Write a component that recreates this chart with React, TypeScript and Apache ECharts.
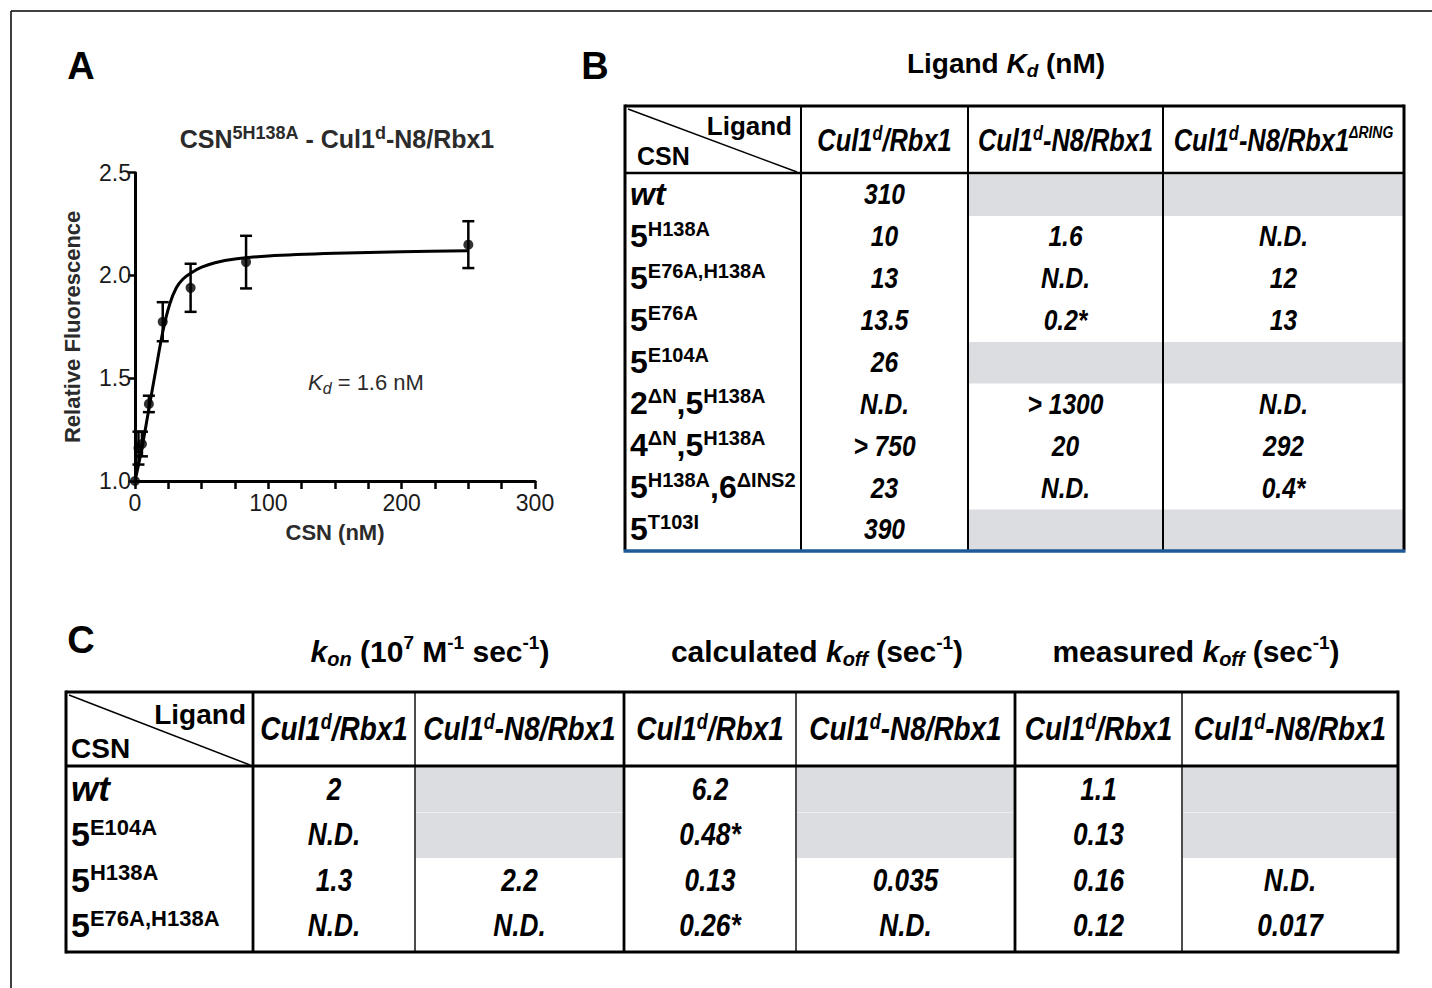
import React, { useEffect, useRef } from "react";
import * as echarts from "echarts";

const FONT = "'Liberation Sans', Arial, Helvetica, sans-serif";

// ---------- Panel A data ----------
const pointX = [0, 2.6, 5.2, 10.4, 20.8, 41.7, 83.3, 250];
const pointY = [1.0, 1.16, 1.18, 1.375, 1.775, 1.94, 2.065, 2.15];
const pointErr = [0, 0.08, 0.06, 0.04, 0.095, 0.117, 0.128, 0.114];
const curveX = [0, 5.2, 10.4, 15.6, 20.8, 26, 31, 36, 42, 50, 60, 75, 100, 150, 200, 250];
const curveY = [1.0, 1.16, 1.35, 1.54, 1.725, 1.86, 1.94, 1.983, 2.012, 2.04, 2.062, 2.08, 2.095, 2.108, 2.115, 2.12];
const xLabelValues = [0, 100, 200, 300];
const yLabelValues = [1.0, 1.5, 2.0, 2.5];

type Seg = [string, string];

const titleA: Seg[] = [["CSN", "t"], ["5H138A", "s"], [" - Cul1", "t"], ["d", "s"], ["-N8/Rbx1", "t"]];
const kdLabel: Seg[] = [["K", "i"], ["d", "sub"], [" = 1.6 nM", "t"]];

// ---------- Panel B data ----------
const titleB: Seg[] = [["Ligand ", "t"], ["K", "i"], ["d", "sub"], [" (nM)", "t"]];
const bLigands: Seg[][] = [
  [["Cul1", "h"], ["d", "hs"], ["/Rbx1", "h"]],
  [["Cul1", "h"], ["d", "hs"], ["-N8/Rbx1", "h"]],
  [["Cul1", "h"], ["d", "hs"], ["-N8/Rbx1", "h"], ["ΔRING", "hs2"]],
];
const bRowLabels: Seg[][] = [
  [["wt", "w"]],
  [["5", "n"], ["H138A", "s"]],
  [["5", "n"], ["E76A,H138A", "s"]],
  [["5", "n"], ["E76A", "s"]],
  [["5", "n"], ["E104A", "s"]],
  [["2", "n"], ["ΔN", "s"], [",5", "n"], ["H138A", "s"]],
  [["4", "n"], ["ΔN", "s"], [",5", "n"], ["H138A", "s"]],
  [["5", "n"], ["H138A", "s"], [",6", "n"], ["ΔINS2", "s"]],
  [["5", "n"], ["T103I", "s"]],
];
const bValues: string[][] = [
  ["310", "", ""],
  ["10", "1.6", "N.D."],
  ["13", "N.D.", "12"],
  ["13.5", "0.2*", "13"],
  ["26", "", ""],
  ["N.D.", "> 1300", "N.D."],
  ["> 750", "20", "292"],
  ["23", "N.D.", "0.4*"],
  ["390", "", ""],
];

// ---------- Panel C data ----------
const cGroupTitles: Seg[][] = [
  [["k", "i"], ["on", "sub"], [" (10", "t"], ["7", "sup"], [" M", "t"], ["-1", "sup"], [" sec", "t"], ["-1", "sup"], [")", "t"]],
  [["calculated ", "t"], ["k", "i"], ["off", "sub"], [" (sec", "t"], ["-1", "sup"], [")", "t"]],
  [["measured ", "t"], ["k", "i"], ["off", "sub"], [" (sec", "t"], ["-1", "sup"], [")", "t"]],
];
const cLigands: Seg[][] = [
  [["Cul1", "h"], ["d", "hs"], ["/Rbx1", "h"]],
  [["Cul1", "h"], ["d", "hs"], ["-N8/Rbx1", "h"]],
  [["Cul1", "h"], ["d", "hs"], ["/Rbx1", "h"]],
  [["Cul1", "h"], ["d", "hs"], ["-N8/Rbx1", "h"]],
  [["Cul1", "h"], ["d", "hs"], ["/Rbx1", "h"]],
  [["Cul1", "h"], ["d", "hs"], ["-N8/Rbx1", "h"]],
];
const cRowLabels: Seg[][] = [
  [["wt", "w"]],
  [["5", "n"], ["E104A", "s"]],
  [["5", "n"], ["H138A", "s"]],
  [["5", "n"], ["E76A,H138A", "s"]],
];
const cValues: string[][] = [
  ["2", "", "6.2", "", "1.1", ""],
  ["N.D.", "", "0.48*", "", "0.13", ""],
  ["1.3", "2.2", "0.13", "0.035", "0.16", "N.D."],
  ["N.D.", "N.D.", "0.26*", "N.D.", "0.12", "0.017"],
];

// ---------- helpers ----------
function toRich(segs: Seg[]) {
  return segs.map(([t, s]) => `{${s}|${t}}`).join("");
}
function fs(size: number, bold = true, italic = false, extra: any = {}) {
  return {
    fontSize: size,
    fontWeight: bold ? "bold" : "normal",
    fontStyle: italic ? "italic" : "normal",
    fontFamily: FONT,
    fill: "#000",
    ...extra,
  };
}
function textEl(x: number, y: number, segs: Seg[], rich: any, align: string, opts: any = {}) {
  return {
    type: "text",
    x,
    y,
    z: 20,
    scaleX: opts.scaleX ?? 1,
    rotation: opts.rotation ?? 0,
    silent: true,
    style: {
      text: toRich(segs),
      rich,
      align,
      verticalAlign: "middle",
      textAlign: align,
      textVerticalAlign: "middle",
      fontFamily: FONT,
      fontSize: 20,
      fill: opts.fill ?? "#000",
    },
  };
}
function lineEl(x1: number, y1: number, x2: number, y2: number, w: number, color = "#000", z = 15) {
  return {
    type: "line",
    z,
    silent: true,
    shape: { x1, y1, x2, y2 },
    style: { stroke: color, lineWidth: w },
  };
}
function rectEl(x: number, y: number, width: number, height: number, fill: string) {
  return { type: "rect", z: 5, silent: true, shape: { x, y, width, height }, style: { fill } };
}

const GREY = "#dcdde0";

function buildGraphics() {
  const els: any[] = [];
  // frame
  els.push(lineEl(11, 11, 1432, 11, 1.5));
  els.push(lineEl(11, 11, 11, 988, 1.5));

  // panel letters
  const letterRich = { L: fs(38) };
  els.push(textEl(81, 66, [["A", "L"]], letterRich, "center"));
  els.push(textEl(595, 66, [["B", "L"]], letterRich, "center"));
  els.push(textEl(81, 640, [["C", "L"]], letterRich, "center"));

  // panel A title and Kd label
  const titleRich = {
    t: fs(25, true, false, { fill: "#2b2b2b", lineHeight: 30 }),
    s: fs(18, true, false, { fill: "#2b2b2b", verticalAlign: "top", lineHeight: 18 }),
  };
  els.push(textEl(337, 139, titleA, titleRich, "center"));
  const kdRich = {
    t: fs(22, false, false, { fill: "#2b2b2b", lineHeight: 28 }),
    i: fs(22, false, true, { fill: "#2b2b2b", lineHeight: 28 }),
    sub: fs(16, false, true, { fill: "#2b2b2b", verticalAlign: "bottom", lineHeight: 16 }),
  };
  els.push(textEl(308, 382, kdLabel, kdRich, "left"));

  // ---------- table B ----------
  const bColX = [625, 801, 968, 1163, 1404];
  const bTop = 106;
  const bHead = 173;
  const bBottom = 550;
  const bRowH = (bBottom - bHead) / bRowLabels.length;

  const titleRichB = {
    t: fs(28, true, false, { lineHeight: 34 }),
    i: fs(28, true, true, { lineHeight: 34 }),
    sub: fs(19, true, true, { verticalAlign: "bottom", lineHeight: 19 }),
  };
  els.push(textEl(1006, 63, titleB, titleRichB, "center"));

  // grey cells
  bValues.forEach((row, i) => {
    row.forEach((v, j) => {
      if (v === "") {
        const x0 = bColX[j + 1] + 1;
        const x1 = bColX[j + 2] - 1;
        els.push(rectEl(x0, bHead + i * bRowH + 1.5, x1 - x0, bRowH - 0.5, GREY));
      }
    });
  });
  // borders
  els.push(lineEl(bColX[0], bTop, bColX[4], bTop, 3));
  els.push(lineEl(bColX[0], bTop - 1.5, bColX[0], bBottom, 3));
  els.push(lineEl(bColX[4], bTop - 1.5, bColX[4], bBottom, 3));
  for (let k = 1; k < bColX.length - 1; k++) els.push(lineEl(bColX[k], bTop, bColX[k], bBottom, 2));
  els.push(lineEl(bColX[0], bHead, bColX[4], bHead, 2.5));
  els.push(lineEl(bColX[0] + 3, bTop + 3, bColX[1] - 4, bHead - 1, 1.5));
  els.push(lineEl(bColX[0] - 1.5, bBottom + 1, bColX[4] + 1.5, bBottom + 1, 3.5, "#1f5a98", 16));

  const cornerRichB = { c: fs(26) };
  els.push(textEl(792, 126, [["Ligand", "c"]], cornerRichB, "right"));
  els.push(textEl(637, 156, [["CSN", "c"]], { c: fs(25) }, "left"));

  const headRichB = {
    h: fs(31, true, true, { lineHeight: 34 }),
    hs: fs(20, true, true, { verticalAlign: "top", lineHeight: 20 }),
    hs2: fs(17, true, true, { verticalAlign: "top", lineHeight: 17 }),
  };
  bLigands.forEach((segs, j) => {
    els.push(textEl((bColX[j + 1] + bColX[j + 2]) / 2, 140, segs, headRichB, "center", { scaleX: 0.82 }));
  });

  const labRichB = {
    n: fs(32, true, false, { lineHeight: 34 }),
    s: fs(20, true, false, { verticalAlign: "top", lineHeight: 20 }),
    w: fs(32, true, true, { lineHeight: 34 }),
  };
  const valRichB = { v: fs(30, true, true) };
  bRowLabels.forEach((segs, i) => {
    const cy = bHead + (i + 0.5) * bRowH;
    els.push(textEl(630, cy, segs, labRichB, "left"));
    bValues[i].forEach((v, j) => {
      if (v !== "") {
        els.push(textEl((bColX[j + 1] + bColX[j + 2]) / 2, cy, [[v, "v"]], valRichB, "center", { scaleX: 0.82 }));
      }
    });
  });

  // ---------- table C ----------
  const cColX = [66, 253, 415, 624, 796, 1015, 1182, 1398];
  const cTop = 692;
  const cHead = 766;
  const cBottom = 952;
  const cRowH = 45.5;

  const groupRich = {
    t: fs(30, true, false, { lineHeight: 36 }),
    i: fs(30, true, true, { lineHeight: 36 }),
    sub: fs(20, true, true, { verticalAlign: "bottom", lineHeight: 20 }),
    sup: fs(19, true, false, { verticalAlign: "top", lineHeight: 19 }),
  };
  const groupCenters = [430, 817, 1196];
  cGroupTitles.forEach((segs, g) => els.push(textEl(groupCenters[g], 651, segs, groupRich, "center")));

  cValues.forEach((row, i) => {
    row.forEach((v, j) => {
      if (v === "") {
        const x0 = cColX[j + 1] + 1;
        const x1 = cColX[j + 2] - 1;
        els.push(rectEl(x0, cHead + i * cRowH + 1.5, x1 - x0, cRowH - 0.5, GREY));
      }
    });
  });
  els.push(lineEl(cColX[0], cTop, cColX[7], cTop, 3));
  els.push(lineEl(cColX[0], cBottom, cColX[7], cBottom, 3));
  els.push(lineEl(cColX[0], cTop - 1.5, cColX[0], cBottom + 1.5, 3));
  els.push(lineEl(cColX[7], cTop - 1.5, cColX[7], cBottom + 1.5, 3));
  for (let k = 1; k < cColX.length - 1; k++) {
    els.push(lineEl(cColX[k], cTop, cColX[k], cBottom, k % 2 === 1 ? 2.8 : 1.4));
  }
  els.push(lineEl(cColX[0], cHead, cColX[7], cHead, 2.8));
  els.push(lineEl(cColX[0] + 3, cTop + 3, cColX[1] - 3, cHead - 1, 1.5));

  els.push(textEl(246, 714, [["Ligand", "c"]], { c: fs(28) }, "right"));
  els.push(textEl(71, 748, [["CSN", "c"]], { c: fs(28) }, "left"));

  const headRichC = {
    h: fs(34, true, true, { lineHeight: 38 }),
    hs: fs(22, true, true, { verticalAlign: "top", lineHeight: 22 }),
  };
  cLigands.forEach((segs, j) => {
    els.push(textEl((cColX[j + 1] + cColX[j + 2]) / 2, 729, segs, headRichC, "center", { scaleX: 0.82 }));
  });

  const labRichC = {
    n: fs(34, true, false, { lineHeight: 36 }),
    s: fs(22, true, false, { verticalAlign: "top", lineHeight: 22 }),
    w: fs(35, true, true, { lineHeight: 36 }),
  };
  const valRichC = { v: fs(32, true, true) };
  cRowLabels.forEach((segs, i) => {
    const cy = cHead + (i + 0.5) * cRowH;
    els.push(textEl(71, cy, segs, labRichC, "left"));
    cValues[i].forEach((v, j) => {
      if (v !== "") {
        els.push(textEl((cColX[j + 1] + cColX[j + 2]) / 2, cy, [[v, "v"]], valRichC, "center", { scaleX: 0.82 }));
      }
    });
  });

  return els;
}

function buildOption(): any {
  return {
    animation: false,
    backgroundColor: "#ffffff",
    grid: { left: 135, top: 172.7, width: 400, height: 308.3, containLabel: false, outerBoundsMode: "none" },
    xAxis: {
      type: "value",
      min: 0,
      max: 300,
      interval: 25,
      name: "CSN (nM)",
      nameLocation: "middle",
      nameGap: 40,
      nameTextStyle: { fontFamily: FONT, fontWeight: "bold", fontSize: 22, color: "#2b2b2b" },
      axisLine: { onZero: false, lineStyle: { color: "#000", width: 3 } },
      axisTick: { length: 8, lineStyle: { color: "#000", width: 2.5 } },
      axisLabel: {
        fontFamily: FONT,
        fontSize: 23,
        color: "#1a1a1a",
        margin: 10,
        formatter: (v: number) => (xLabelValues.indexOf(v) >= 0 ? String(v) : ""),
      },
      splitLine: { show: false },
    },
    yAxis: {
      type: "value",
      min: 1,
      max: 2.5,
      interval: 0.5,
      name: "Relative Fluorescence",
      nameLocation: "middle",
      nameGap: 52,
      nameTextStyle: { fontFamily: FONT, fontWeight: "bold", fontSize: 22, color: "#2b2b2b" },
      axisLine: { onZero: false, lineStyle: { color: "#000", width: 3 } },
      axisTick: { length: 7, lineStyle: { color: "#000", width: 2.5 } },
      axisLabel: {
        fontFamily: FONT,
        fontSize: 23,
        color: "#1a1a1a",
        margin: 4,
        formatter: (v: number) => {
          const hit = yLabelValues.find((y) => Math.abs(y - v) < 1e-9);
          return hit !== undefined ? hit.toFixed(1) : "";
        },
      },
      splitLine: { show: false },
    },
    series: [
      {
        type: "line",
        data: curveX.map((x, i) => [x, curveY[i]]),
        smooth: 0.3,
        showSymbol: false,
        symbol: "none",
        lineStyle: { color: "#000", width: 3 },
        z: 3,
      },
      {
        type: "custom",
        data: pointX.map((x, i) => [x, pointY[i], pointErr[i]]),
        encode: { x: 0, y: 1 },
        z: 4,
        renderItem: (_params: any, api: any) => {
          const x = api.value(0);
          const y = api.value(1);
          const e = api.value(2);
          if (!e) return null;
          const hi = api.coord([x, y + e]);
          const lo = api.coord([x, y - e]);
          const w = 6;
          const st = { stroke: "#000", lineWidth: 2.5 };
          return {
            type: "group",
            children: [
              { type: "line", shape: { x1: hi[0], y1: hi[1], x2: lo[0], y2: lo[1] }, style: st },
              { type: "line", shape: { x1: hi[0] - w, y1: hi[1], x2: hi[0] + w, y2: hi[1] }, style: st },
              { type: "line", shape: { x1: lo[0] - w, y1: lo[1], x2: lo[0] + w, y2: lo[1] }, style: st },
            ],
          };
        },
      },
      {
        type: "scatter",
        data: pointX.map((x, i) => [x, pointY[i]]),
        symbol: "circle",
        symbolSize: 10,
        itemStyle: { color: "#000" },
        z: 5,
      },
    ],
    graphic: { elements: buildGraphics() },
  };
}

export default function App() {
  const ref = useRef<HTMLDivElement>(null);
  useEffect(() => {
    if (!ref.current) return;
    const chart = echarts.init(ref.current, null, { renderer: "svg" });
    chart.setOption(buildOption());
    return () => chart.dispose();
  }, []);
  return (
    <div
      ref={ref}
      style={{ position: "fixed", left: 0, top: 0, width: 1432, height: 988, background: "#fff" }}
    />
  );
}
